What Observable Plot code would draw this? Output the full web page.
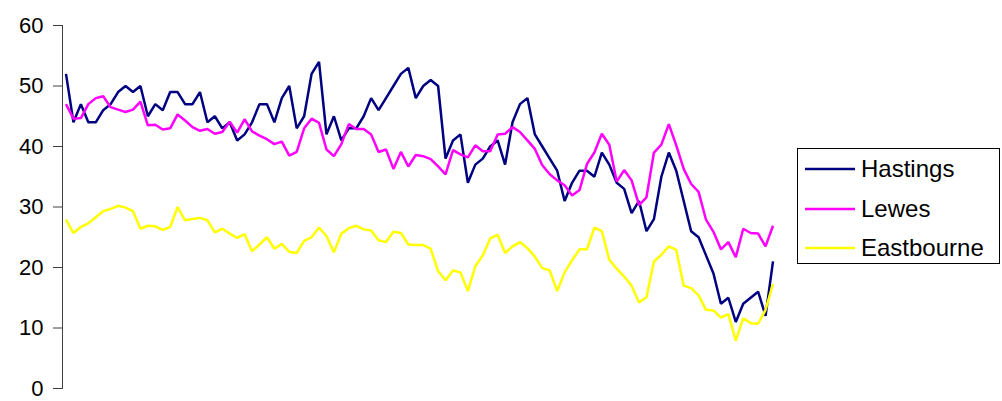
<!DOCTYPE html>
<html>
<head>
<meta charset="utf-8">
<script src="https://cdn.jsdelivr.net/npm/d3@7"></script>
<script src="https://cdn.jsdelivr.net/npm/@observablehq/plot@0.6"></script>
<style>
  html, body { margin: 0; padding: 0; background: #fff; }
  #wrap { position: relative; width: 1002px; height: 401px; font-family: "Liberation Sans", Arial, sans-serif; }
  #legend { position: absolute; left: 797px; top: 148px; width: 203px; height: 116px; border: 1px solid #000; background: #fff; box-sizing: border-box; }
  .row { position: absolute; left: 0; height: 30px; display: flex; align-items: center; }
  .row svg { margin-left: 7px; margin-right: 6px; }
  .row span { font-size: 24px; color: #000; }
</style>
</head>
<body>
<div id="wrap"><div id="legend"></div></div>
<script>
const seriesNames = ["Hastings", "Lewes", "Eastbourne"];
const seriesColors = ["#000080", "#FF00FF", "#FFFF00"];
const yTicks = [0, 10, 20, 30, 40, 50, 60];

const hastings = [
  52,44,47,44,44,46,47,49,50,49,50,45,47,46,49,49,
  47,47,49,44,45,43,44,41,42,44,47,47,44,48,50,43,
  45,52,54,42,45,41,43,43,45,48,46,48,50,52,53,48,
  50,51,50,38,41,42,34,37,38,40,41,37,44,47,48,42,
  40,38,36,31,34,36,36,35,39,37,34,33,29,31,26,28,
  35,39,36,31,26,25,22,19,14,15,11,14,15,16,12,21
];
const lewes = [
  47.0,44.6,44.7,47.0,48.0,48.3,46.5,46.1,45.7,46.1,47.4,43.5,43.6,42.8,43.0,45.3,
  44.3,43.2,42.6,42.9,42.1,42.4,44.1,42.3,44.5,42.5,41.8,41.2,40.4,40.8,38.5,39.1,
  43.0,44.6,43.9,39.5,38.4,40.4,43.7,42.9,42.9,42.0,39.1,39.5,36.3,39.1,36.7,38.6,
  38.4,37.9,36.7,35.4,39.4,38.7,38.2,40.2,39.2,39.2,42.0,42.1,43.2,42.4,41.0,39.6,
  36.9,35.4,34.4,33.6,31.9,32.8,37.1,39.0,42.1,40.3,34.2,36.1,34.4,30.3,31.6,39.0,
  40.3,43.7,40.2,36.3,33.8,32.5,27.9,25.9,23.0,24.2,21.7,26.4,25.7,25.6,23.5,26.9
];
const eastbourne = [
  27.9,25.7,26.7,27.3,28.3,29.3,29.7,30.2,29.9,29.3,26.4,26.9,26.8,26.2,26.7,30.0,
  27.8,28.0,28.2,27.8,25.8,26.4,25.6,24.9,25.5,22.7,23.8,25.0,23.1,23.9,22.6,22.4,
  24.4,25.0,26.6,25.2,22.5,25.6,26.5,26.9,26.3,26.1,24.5,24.2,25.9,25.7,23.8,23.7,
  23.7,23.1,19.4,17.9,19.5,19.2,16.1,20.2,22.0,24.8,25.4,22.4,23.5,24.2,23.2,21.8,
  19.9,19.5,16.1,19.2,21.2,23.0,23.0,26.6,26.0,21.3,19.8,18.5,17.0,14.2,15.1,21.0,
  22.1,23.5,22.9,17.0,16.6,15.4,13.0,12.9,11.7,12.3,7.9,11.6,10.8,10.7,13.0,17.3
];

const allSeries = [hastings, lewes, eastbourne];
const n = hastings.length;

const lineMarks = allSeries.map((vals, k) =>
  Plot.lineY(vals.map((v, i) => ({i, v})), {
    x: "i", y: "v", stroke: seriesColors[k], strokeWidth: 2.5,
    strokeLinejoin: "miter", strokeLinecap: "butt"
  })
);

const chart = Plot.plot({
  width: 1002,
  height: 401,
  marginLeft: 62,
  marginRight: 226,
  marginTop: 25,
  marginBottom: 13,
  style: { fontFamily: "'Liberation Sans', Arial, sans-serif", background: "#fff", color: "#000" },
  x: { domain: [0, n - 1], insetLeft: 3.5, insetRight: 3.5, axis: null },
  y: { domain: [0, 60], label: null },
  marks: [
    Plot.frame({ anchor: "left", stroke: "#404040" }),
    Plot.axisY(yTicks, { label: null, tickSize: 9, tickPadding: 10, fontSize: 22, stroke: "#404040", fill: "#000", tickFormat: d => String(d) }),
    ...lineMarks
  ]
});
chart.style.position = "absolute";
chart.style.left = "0";
chart.style.top = "0";
const wrap = document.getElementById("wrap");
wrap.insertBefore(chart, wrap.firstChild);

const legend = document.getElementById("legend");
const rowCenters = [20, 59.5, 98.5];
seriesNames.forEach((name, k) => {
  const row = document.createElement("div");
  row.className = "row";
  row.style.top = (rowCenters[k] - 15) + "px";
  row.innerHTML = `<svg width="50" height="6"><line x1="0" y1="3" x2="50" y2="3" stroke="${seriesColors[k]}" stroke-width="2.5"/></svg><span>${name}</span>`;
  legend.appendChild(row);
});
</script>
</body>
</html>
